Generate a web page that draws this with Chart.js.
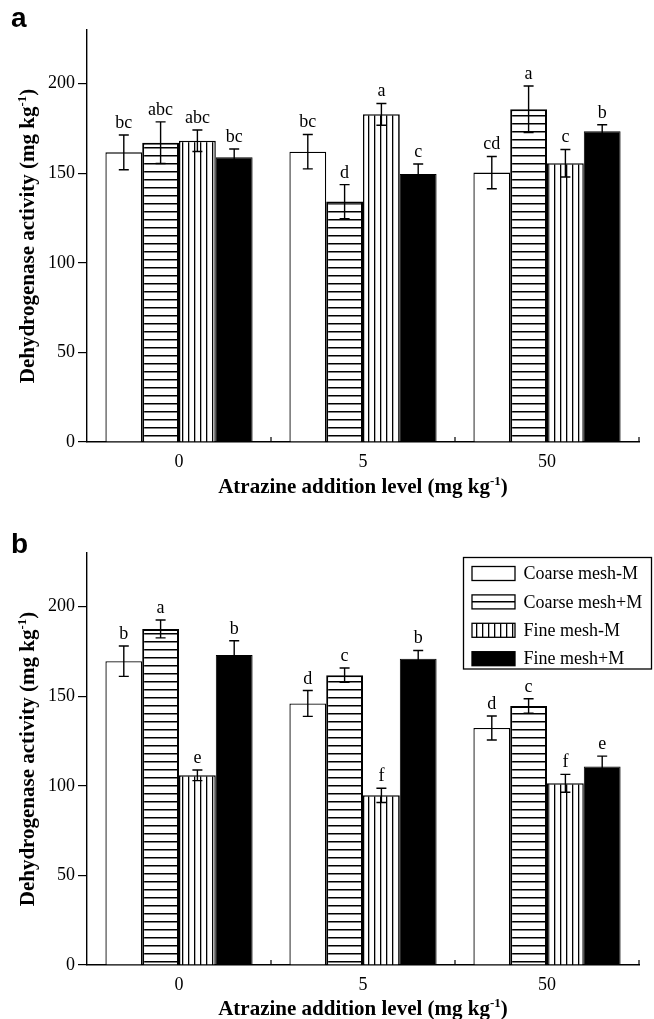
<!DOCTYPE html>
<html><head><meta charset="utf-8">
<script src="https://cdn.jsdelivr.net/npm/chart.js@4/dist/chart.umd.min.js"></script>
<style>html,body{margin:0;padding:0;background:#fff;width:654px;height:1019px;overflow:hidden}canvas{position:absolute;left:0}</style>
</head><body>
<canvas id="ca" width="654" height="510" style="top:0"></canvas>
<canvas id="cb" width="654" height="509" style="top:510px"></canvas>
<script>
// ---- data ----
const categories = ['0', '5', '50'];
const seriesNames = ['Coarse mesh-M', 'Coarse mesh+M', 'Fine mesh-M', 'Fine mesh+M'];
const yTicks = [0, 50, 100, 150, 200];
const yMax = 230;
const xTitle = 'Atrazine addition level (mg kg';
const yTitle = 'Dehydrogenase activity (mg kg';

// panel a
const aCoarseMinus = [161.7, 162.1, 150.4];
const aCoarsePlus  = [167.1, 134.2, 185.7];
const aFineMinus   = [168.2, 182.9, 155.6];
const aFinePlus    = [158.9, 149.6, 173.5];
const aCoarseMinusErr = [9.7, 9.6, 9.0];
const aCoarsePlusErr  = [11.6, 9.5, 13.0];
const aFineMinusErr   = [6.0, 6.1, 7.7];
const aFinePlusErr    = [4.7, 5.6, 3.6];
const aCoarseMinusSig = ['bc', 'bc', 'cd'];
const aCoarsePlusSig  = ['abc', 'd', 'a'];
const aFineMinusSig   = ['abc', 'a', 'c'];
const aFinePlusSig    = ['bc', 'c', 'b'];

// panel b
const bCoarseMinus = [169.6, 146.0, 132.3];
const bCoarsePlus  = [187.6, 161.8, 144.6];
const bFineMinus   = [105.9, 94.7, 101.4];
const bFinePlus    = [173.0, 170.9, 110.8];
const bCoarseMinusErr = [8.5, 7.2, 6.7];
const bCoarsePlusErr  = [5.0, 4.0, 4.0];
const bFineMinusErr   = [3.0, 4.0, 5.0];
const bFinePlusErr    = [8.0, 4.7, 5.8];
const bCoarseMinusSig = ['b', 'd', 'd'];
const bCoarsePlusSig  = ['a', 'c', 'c'];
const bFineMinusSig   = ['e', 'f', 'f'];
const bFinePlusSig    = ['b', 'b', 'e'];

// ---- styles ----
const SERIF = '"Liberation Serif", "Times New Roman", serif';
const SANS = '"Liberation Sans", Arial, sans-serif';

function hPattern(ctx0) {
  const c = document.createElement('canvas'); c.width = 8; c.height = 8;
  const g = c.getContext('2d');
  g.fillStyle = '#fff'; g.fillRect(0, 0, 8, 8);
  g.fillStyle = '#000'; g.fillRect(0, 3, 8, 1.5);
  return ctx0.createPattern(c, 'repeat');
}
function vPattern(ctx0) {
  const c = document.createElement('canvas'); c.width = 6; c.height = 6;
  const g = c.getContext('2d');
  g.fillStyle = '#fff'; g.fillRect(0, 0, 6, 6);
  g.fillStyle = '#000'; g.fillRect(2, 0, 1.3, 6);
  return ctx0.createPattern(c, 'repeat');
}

function drawSup(ctx, text, x, y, size) {
  // draws text + superscript "-1" + ")" centered at x (baseline y)
  ctx.font = 'bold ' + size + 'px ' + SERIF;
  const w1 = ctx.measureText(text).width;
  ctx.font = 'bold ' + Math.round(size * 0.62) + 'px ' + SERIF;
  const w2 = ctx.measureText('-1').width;
  ctx.font = 'bold ' + size + 'px ' + SERIF;
  const w3 = ctx.measureText(')').width;
  let sx = x - (w1 + w2 + w3) / 2;
  ctx.textAlign = 'left'; ctx.textBaseline = 'alphabetic';
  ctx.fillText(text, sx, y);
  ctx.font = 'bold ' + Math.round(size * 0.62) + 'px ' + SERIF;
  ctx.fillText('-1', sx + w1, y - size * 0.38);
  ctx.font = 'bold ' + size + 'px ' + SERIF;
  ctx.fillText(')', sx + w1 + w2, y);
}

const decor = {
  id: 'decor',
  afterDatasetsDraw(chart, args, opts) {
    const ctx = chart.ctx;
    const ys = chart.scales.y, xs = chart.scales.x;
    const ca = chart.chartArea;
    ctx.save();
    // error bars + letters
    chart.data.datasets.forEach((ds, di) => {
      const meta = chart.getDatasetMeta(di);
      meta.data.forEach((el, i) => {
        const v = ds.data[i], e = ds.errors[i];
        const yt = ys.getPixelForValue(v + e), yb = ys.getPixelForValue(v - e);
        ctx.strokeStyle = '#000'; ctx.lineWidth = 1.4;
        ctx.beginPath();
        ctx.moveTo(el.x, yt); ctx.lineTo(el.x, yb);
        ctx.moveTo(el.x - 5, yt); ctx.lineTo(el.x + 5, yt);
        ctx.moveTo(el.x - 5, yb); ctx.lineTo(el.x + 5, yb);
        ctx.stroke();
        ctx.fillStyle = '#000';
        ctx.font = '18px ' + SERIF;
        ctx.textAlign = 'center'; ctx.textBaseline = 'alphabetic';
        ctx.fillText(ds.sig[i], el.x, yt - 7);
      });
    });
    // inward x ticks at category boundaries
    const n = chart.data.labels.length;
    const cw = (ca.right - ca.left) / n;
    ctx.lineWidth = 1.2;
    ctx.beginPath();
    for (let i = 1; i <= n; i++) {
      const x = ca.left + i * cw;
      ctx.moveTo(x, ca.bottom); ctx.lineTo(x, ca.bottom - 5);
    }
    ctx.stroke();
    // axis titles
    ctx.fillStyle = '#000';
    drawSup(ctx, xTitle, (ca.left + ca.right) / 2, opts.xTitleY, 21);
    ctx.save();
    ctx.translate(34, (ca.top + ca.bottom) / 2);
    ctx.rotate(-Math.PI / 2);
    drawSup(ctx, yTitle, 0, 0, 21);
    ctx.restore();
    // panel letter
    ctx.font = 'bold 28px ' + SANS;
    ctx.textAlign = 'left'; ctx.textBaseline = 'alphabetic';
    ctx.fillText(opts.panel, 11, opts.panelY);
    // legend
    if (opts.legend) {
      const L = opts.legend;
      ctx.lineWidth = 1.3; ctx.strokeStyle = '#000';
      ctx.strokeRect(L.x, L.y, L.w, L.h);
      chart.data.datasets.forEach((ds, di) => {
        const cy = L.y + L.first + di * L.step;
        ctx.fillStyle = ds.legendFill || ds.backgroundColor;
        ctx.fillRect(L.x + 8.5, cy - 7, 43, 14);
        ctx.lineWidth = 1.3;
        ctx.strokeRect(L.x + 8.5, cy - 7, 43, 14);
        ctx.fillStyle = '#000';
        ctx.font = '18px ' + SERIF;
        ctx.textAlign = 'left'; ctx.textBaseline = 'middle';
        ctx.fillText(ds.label, L.x + 60, cy + 1);
      });
    }
    ctx.restore();
  }
};

function makeChart(id, vals, errs, sigs, opts) {
  const el = document.getElementById(id);
  const ctx0 = el.getContext('2d');
  const fills = ['#fff', hPattern(ctx0), vPattern(ctx0), '#000'];
  const bw = [1.3, 2, 1.5, 1];
  const datasets = seriesNames.map((name, k) => ({
    label: name, data: vals[k], errors: errs[k], sig: sigs[k],
    backgroundColor: fills[k], borderColor: '#000', borderWidth: bw[k],
    categoryPercentage: 0.8, barPercentage: 1.0
  }));
  return new Chart(el, {
    type: 'bar',
    data: { labels: categories, datasets },
    options: {
      responsive: false, animation: false, devicePixelRatio: 1,
      layout: { padding: { top: opts.top, right: 15, left: 0, bottom: 0 } },
      plugins: { legend: { display: false }, tooltip: { enabled: false }, decor: opts.decor },
      scales: {
        x: {
          grid: { display: true, drawOnChartArea: false, drawTicks: false, color: 'transparent' },
          border: { display: true, color: '#000', width: 1.4 },
          ticks: { color: '#000', font: { family: SERIF, size: 18 }, padding: 9 },
          afterFit: s => { s.height = opts.xh; }
        },
        y: {
          min: 0, max: yMax,
          grid: { display: true, drawOnChartArea: false, drawTicks: true, tickLength: 9, color: '#000', lineWidth: 1.2 },
          border: { display: true, color: '#000', width: 1.4 },
          ticks: { color: '#000', font: { family: SERIF, size: 18 }, padding: 3 },
          afterBuildTicks: s => { s.ticks = yTicks.map(v => ({ value: v })); },
          afterFit: s => { s.width = 87; }
        }
      }
    },
    plugins: [decor]
  });
}

makeChart('ca',
  [aCoarseMinus, aCoarsePlus, aFineMinus, aFinePlus],
  [aCoarseMinusErr, aCoarsePlusErr, aFineMinusErr, aFinePlusErr],
  [aCoarseMinusSig, aCoarsePlusSig, aFineMinusSig, aFinePlusSig],
  { top: 30, xh: 68, decor: { panel: 'a', panelY: 27, xTitleY: 493 } });

makeChart('cb',
  [bCoarseMinus, bCoarsePlus, bFineMinus, bFinePlus],
  [bCoarseMinusErr, bCoarsePlusErr, bFineMinusErr, bFinePlusErr],
  [bCoarseMinusSig, bCoarsePlusSig, bFineMinusSig, bFinePlusSig],
  { top: 43, xh: 54, decor: { panel: 'b', panelY: 43, xTitleY: 505,
    legend: { x: 463.5, y: 47.5, w: 188, h: 111.5, first: 16, step: 28.4 } } });
</script>
</body></html>
